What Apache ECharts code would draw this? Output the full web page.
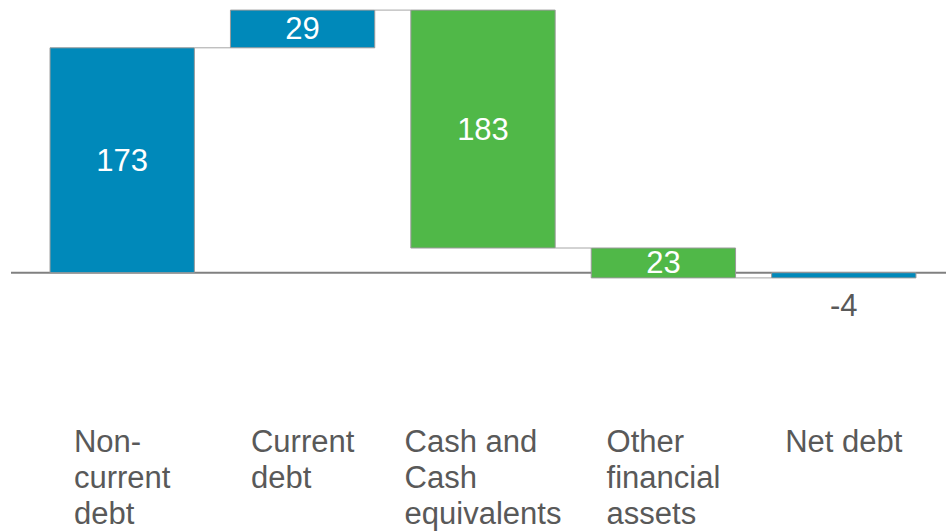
<!DOCTYPE html>
<html>
<head>
<meta charset="utf-8">
<script src="https://cdn.jsdelivr.net/npm/echarts@6/dist/echarts.min.js"></script>
<style>
  html, body { margin: 0; padding: 0; background: #ffffff; }
  #chart { width: 946px; height: 532px; }
</style>
</head>
<body>
<div id="chart"></div>
<script>
// ---- Data ----
const categories = ['Non-current debt', 'Current debt', 'Cash and Cash equivalents', 'Other financial assets', 'Net debt'];
const tickLabels = ['Non-\ncurrent\ndebt', 'Current\ndebt', 'Cash and\nCash\nequivalents', 'Other\nfinancial\nassets', 'Net debt'];
const changes = [173, 29, -183, -23];      // signed movements
const netDebt = -4;                        // total bar
const shownValues = [173, 29, 183, 23, -4]; // labels as printed

// ---- Styles ----
const BLUE = '#0089BA';
const GREEN = '#50B848';
const barColors = [BLUE, BLUE, GREEN, GREEN, BLUE];
const FONT = '"Liberation Sans", Arial, sans-serif';
const TEXT_GRAY = '#595959';

// build waterfall ranges [index, start, end]
const ranges = [];
let run = 0;
changes.forEach(function (c, i) {
  ranges.push([i, run, run + c]);
  run += c;
});
ranges.push([changes.length, 0, netDebt]);

const chart = echarts.init(document.getElementById('chart'), null, { renderer: 'svg' });

const option = {
  animation: false,
  backgroundColor: '#ffffff',
  grid: { left: 32, right: 12, top: 1, bottom: 129.3, containLabel: false },
  xAxis: {
    type: 'category',
    data: categories,
    boundaryGap: true,
    axisLine: { show: false, onZero: false },
    axisTick: { show: false },
    splitLine: { show: false },
    axisLabel: {
      interval: 0,
      margin: 21,
      formatter: function (v, idx) {
        return tickLabels[idx].split('\n').map(function (s) { return '{l|' + s + '}'; }).join('\n');
      },
      rich: {
        l: { align: 'left', fontSize: 31, lineHeight: 36, color: TEXT_GRAY, fontFamily: FONT }
      }
    }
  },
  yAxis: {
    type: 'value',
    min: -100,
    max: 209,
    show: false,
    splitLine: { show: false }
  },
  series: [{
    type: 'custom',
    data: ranges,
    encode: { x: 0, y: [1, 2] },
    clip: false,
    z: 3,
    renderItem: function (params, api) {
      const i = api.value(0);
      const s = api.value(1);
      const e = api.value(2);
      const p1 = api.coord([i, s]);
      const p2 = api.coord([i, e]);
      const band = api.size([1, 0])[0];
      const bw = band * 0.8;
      const x = p1[0] - bw / 2;
      const top = Math.min(p1[1], p2[1]);
      const h = Math.abs(p1[1] - p2[1]);
      const children = [];
      children.push({
        type: 'rect',
        shape: { x: x, y: top, width: bw, height: h },
        style: { fill: barColors[i], stroke: '#9a9a9a', lineWidth: 1 }
      });
      if (i < ranges.length - 1) {
        const yc = p2[1];
        const nx = api.coord([i + 1, 0])[0] - bw / 2;
        children.push({
          type: 'line',
          shape: { x1: x + bw, y1: yc, x2: nx, y2: yc },
          style: { stroke: '#a6a6a6', lineWidth: 1 }
        });
      }
      const big = h > 25;
      children.push({
        type: 'text',
        style: {
          text: String(shownValues[i]),
          x: p1[0],
          y: big ? top + h / 2 : top + h + 28,
          align: 'center',
          verticalAlign: 'middle',
          fill: big ? '#ffffff' : TEXT_GRAY,
          fontSize: 31,
          fontFamily: FONT
        }
      });
      return { type: 'group', children: children };
    }
  }]
};

chart.setOption(option);

const y0 = chart.convertToPixel({ yAxisIndex: 0 }, 0);
chart.setOption({
  graphic: [{
    type: 'line',
    z: 1,
    shape: { x1: 11, y1: y0, x2: 946, y2: y0 },
    style: { stroke: '#808080', lineWidth: 2 }
  }]
});
</script>
</body>
</html>
